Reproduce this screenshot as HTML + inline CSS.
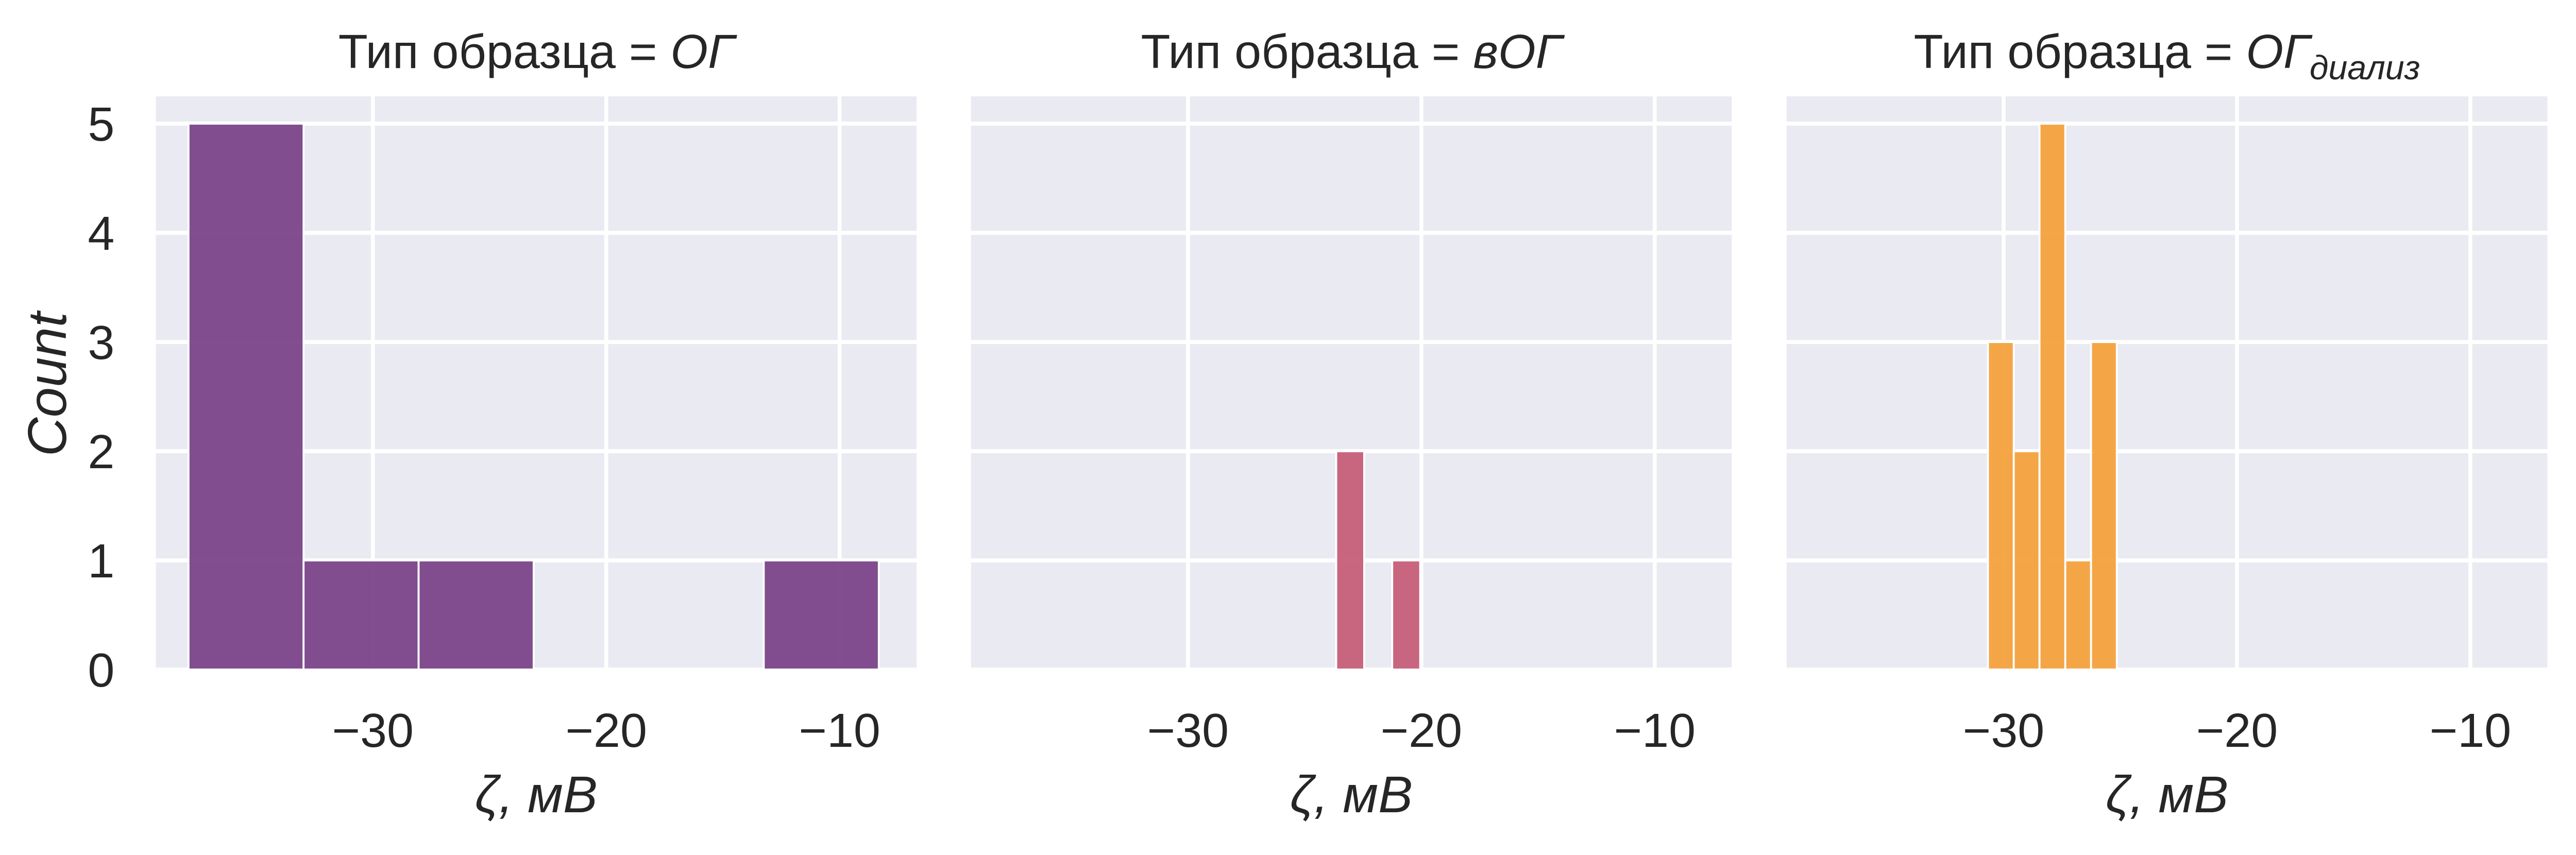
<!DOCTYPE html>
<html><head><meta charset="utf-8">
<style>
html,body{margin:0;padding:0;background:#fff;overflow:hidden;width:100vw;height:100vh;}
svg{display:block;width:100vw;height:100vh;}
text{font-family:"Liberation Sans","DejaVu Sans",sans-serif;fill:#262626;}
</style></head>
<body>
<svg id="chart" viewBox="0 0 5306 1660" preserveAspectRatio="none" xmlns="http://www.w3.org/2000/svg"></svg>
<script>
// ---- data ----
const panelTitles = ["ОГ", "вОГ", "ОГ"];
const panelSubs = ["", "", "диализ"];
const panelColors = ["#7b4489", "#c65f79", "#f4a23d"];
const binStarts = [-37.9, -23.65, -30.67];
const binWidths = [4.93, 1.2, 1.104];
const countsOG = [5, 1, 1, 0, 0, 1];
const countsVOG = [2, 0, 1];
const countsOGD = [3, 2, 5, 1, 3];
const xTicks = [-30, -20, -10];
const xTickLabels = ["−30", "−20", "−10"];
const yTicks = [0, 1, 2, 3, 4, 5];
const xDomain = [-39.3, -6.7];
const yDomain = [0, 5.25];

const allCounts = [countsOG, countsVOG, countsOGD];
const svg = document.getElementById('chart');
const NS = "http://www.w3.org/2000/svg";
const panelLefts = [321, 2000, 3680];
const PW = 1567, TOP = 187, BOT = 1300;
const SXF = 1.066;

function mk(tag, attrs, parent) {
  const e = document.createElementNS(NS, tag);
  for (const k in attrs) e.setAttribute(k, attrs[k]);
  parent.appendChild(e);
  return e;
}
function txt(x, y, attrs, parent) {
  attrs.x = 0; attrs.y = 0;
  attrs.transform = 'translate(' + x + ' ' + y + ') scale(' + SXF + ' 1)';
  return mk('text', attrs, parent);
}

for (let p = 0; p < 3; p++) {
  const L = panelLefts[p];
  const sx = v => L + (v - xDomain[0]) / (xDomain[1] - xDomain[0]) * PW;
  const sy = v => BOT - (v - yDomain[0]) / (yDomain[1] - yDomain[0]) * (BOT - TOP);
  const g = mk('g', {}, svg);
  
  
  const bg = mk('rect', {x: L, y: TOP, width: PW, height: BOT - TOP, fill: '#eaeaf2'}, g);
  
  
  xTicks.forEach((t, i) => {
    const gl = mk('line', {x1: sx(t), x2: sx(t), y1: TOP, y2: BOT, stroke: '#fff', 'stroke-width': 8}, g);
    
    
    const tl = txt(sx(t), 1450, {'font-size': 93, 'text-anchor': 'middle'}, g);
    tl.textContent = xTickLabels[i];
    
    
  });
  yTicks.forEach(t => {
    const gl = mk('line', {x1: L, x2: L + PW, y1: sy(t), y2: sy(t), stroke: '#fff', 'stroke-width': 8}, g);
    
    
    if (p === 0) {
      const tl = txt(236, sy(t) + 33, {'font-size': 93, 'text-anchor': 'end'}, g);
      tl.textContent = String(t);
      
      
    }
  });
  const counts = allCounts[p];
  counts.forEach((c, i) => {
    if (c <= 0) return;
    const x0 = binStarts[p] + i * binWidths[p];
    const x1 = x0 + binWidths[p];
    const r = mk('rect', {x: sx(x0), y: sy(c), width: sx(x1) - sx(x0), height: sy(0) - sy(c),
      fill: panelColors[p], 'fill-opacity': 0.95, stroke: '#fff', 'stroke-width': 4}, g);
    
    
  });
  const title = txt(L + PW / 2, 132, {'font-size': 93, 'text-anchor': 'middle'}, g);
  
  
  const t1 = mk('tspan', {}, title); t1.textContent = 'Тип образца = ';
  const t2 = mk('tspan', {'font-style': 'italic'}, title); t2.textContent = panelTitles[p];
  if (panelSubs[p]) {
    const t3 = mk('tspan', {'font-style': 'italic', 'font-size': 66, dy: 22}, title);
    t3.textContent = panelSubs[p];
  }
  const xl = txt(L + PW / 2, 1577, {'font-size': 100, 'font-style': 'italic', 'text-anchor': 'middle'}, g);
  xl.textContent = 'ζ, мВ';
  
  
}
const yl = mk('text', {x: 0, y: 0, 'font-size': 105, 'font-style': 'italic', 'text-anchor': 'middle',
  transform: 'translate(136,746) scale(' + SXF + ' 1) rotate(-90)'}, svg);
yl.textContent = 'Count';


</script>
</body></html>
